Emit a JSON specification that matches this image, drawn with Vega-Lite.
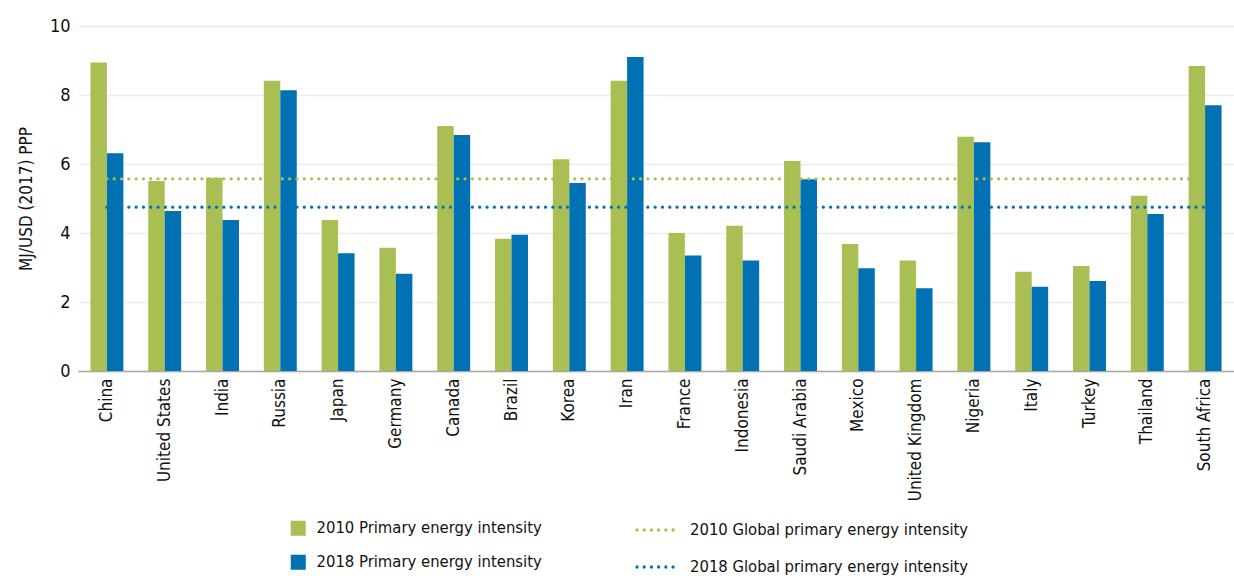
{
  "$schema": "https://vega.github.io/schema/vega-lite/v6.json",
  "autosize": "none",
  "width": 1156,
  "height": 345,
  "padding": {"left": 78, "top": 26, "right": 0, "bottom": 205},
  "background": "white",
  "config": {
    "view": {"stroke": null},
    "font": "DejaVu Sans Condensed"
  },
  "datasets": {
    "bars": [
      {"country": "China", "series": "2010 Primary energy intensity", "value": 8.94},
      {"country": "China", "series": "2018 Primary energy intensity", "value": 6.31},
      {"country": "United States", "series": "2010 Primary energy intensity", "value": 5.51},
      {"country": "United States", "series": "2018 Primary energy intensity", "value": 4.64},
      {"country": "India", "series": "2010 Primary energy intensity", "value": 5.60},
      {"country": "India", "series": "2018 Primary energy intensity", "value": 4.38},
      {"country": "Russia", "series": "2010 Primary energy intensity", "value": 8.41},
      {"country": "Russia", "series": "2018 Primary energy intensity", "value": 8.14},
      {"country": "Japan", "series": "2010 Primary energy intensity", "value": 4.38},
      {"country": "Japan", "series": "2018 Primary energy intensity", "value": 3.41},
      {"country": "Germany", "series": "2010 Primary energy intensity", "value": 3.57},
      {"country": "Germany", "series": "2018 Primary energy intensity", "value": 2.82},
      {"country": "Canada", "series": "2010 Primary energy intensity", "value": 7.10},
      {"country": "Canada", "series": "2018 Primary energy intensity", "value": 6.84},
      {"country": "Brazil", "series": "2010 Primary energy intensity", "value": 3.83},
      {"country": "Brazil", "series": "2018 Primary energy intensity", "value": 3.95},
      {"country": "Korea", "series": "2010 Primary energy intensity", "value": 6.14},
      {"country": "Korea", "series": "2018 Primary energy intensity", "value": 5.45},
      {"country": "Iran", "series": "2010 Primary energy intensity", "value": 8.41},
      {"country": "Iran", "series": "2018 Primary energy intensity", "value": 9.10},
      {"country": "France", "series": "2010 Primary energy intensity", "value": 4.00},
      {"country": "France", "series": "2018 Primary energy intensity", "value": 3.35},
      {"country": "Indonesia", "series": "2010 Primary energy intensity", "value": 4.21},
      {"country": "Indonesia", "series": "2018 Primary energy intensity", "value": 3.20},
      {"country": "Saudi Arabia", "series": "2010 Primary energy intensity", "value": 6.09},
      {"country": "Saudi Arabia", "series": "2018 Primary energy intensity", "value": 5.56},
      {"country": "Mexico", "series": "2010 Primary energy intensity", "value": 3.68},
      {"country": "Mexico", "series": "2018 Primary energy intensity", "value": 2.98},
      {"country": "United Kingdom", "series": "2010 Primary energy intensity", "value": 3.20},
      {"country": "United Kingdom", "series": "2018 Primary energy intensity", "value": 2.40},
      {"country": "Nigeria", "series": "2010 Primary energy intensity", "value": 6.79},
      {"country": "Nigeria", "series": "2018 Primary energy intensity", "value": 6.63},
      {"country": "Italy", "series": "2010 Primary energy intensity", "value": 2.88},
      {"country": "Italy", "series": "2018 Primary energy intensity", "value": 2.44},
      {"country": "Turkey", "series": "2010 Primary energy intensity", "value": 3.04},
      {"country": "Turkey", "series": "2018 Primary energy intensity", "value": 2.61},
      {"country": "Thailand", "series": "2010 Primary energy intensity", "value": 5.08},
      {"country": "Thailand", "series": "2018 Primary energy intensity", "value": 4.55},
      {"country": "South Africa", "series": "2010 Primary energy intensity", "value": 8.84},
      {"country": "South Africa", "series": "2018 Primary energy intensity", "value": 7.70}
    ],
    "lines": [
      {"line": "2010 Global primary energy intensity", "value": 5.57, "start": "China", "end": "South Africa"},
      {"line": "2018 Global primary energy intensity", "value": 4.75, "start": "China", "end": "South Africa"}
    ]
  },
  "layer": [
    {
      "data": {"name": "bars"},
      "mark": {"type": "bar"},
      "encoding": {
        "x": {
          "field": "country",
          "type": "nominal",
          "scale": {
            "domain": ["China", "United States", "India", "Russia", "Japan", "Germany", "Canada", "Brazil", "Korea", "Iran", "France", "Indonesia", "Saudi Arabia", "Mexico", "United Kingdom", "Nigeria", "Italy", "Turkey", "Thailand", "South Africa"],
            "paddingInner": 0.43,
            "paddingOuter": 0.215
          },
          "axis": {
            "title": null,
            "labelAngle": 270,
            "labelFont": "DejaVu Sans Condensed",
            "labelFontSize": 17,
            "labelColor": "#111111",
            "labelPadding": 7,
            "labelLimit": 300,
            "ticks": false,
            "domain": true,
            "domainColor": "#a8a8a8",
            "domainWidth": 1.5,
            "grid": false
          }
        },
        "xOffset": {
          "field": "series",
          "type": "nominal",
          "scale": {"domain": ["2010 Primary energy intensity", "2018 Primary energy intensity"], "paddingInner": 0, "paddingOuter": 0}
        },
        "y": {
          "field": "value",
          "type": "quantitative",
          "scale": {"domain": [0, 10]},
          "axis": {
            "title": "MJ/USD (2017) PPP",
            "titleFont": "DejaVu Sans Condensed",
            "titleFontSize": 17,
            "titleFontWeight": "normal",
            "titleColor": "#111111",
            "titlePadding": 14,
            "values": [0, 2, 4, 6, 8, 10],
            "labelFont": "DejaVu Sans Condensed",
            "labelFontSize": 18,
            "labelColor": "#111111",
            "labelPadding": 8,
            "ticks": false,
            "domain": false,
            "grid": true,
            "gridColor": "#ececec",
            "gridWidth": 1.5
          }
        },
        "fill": {
          "field": "series",
          "type": "nominal",
          "scale": {"domain": ["2010 Primary energy intensity", "2018 Primary energy intensity"], "range": ["#aabf53", "#0071b2"]},
          "legend": {
            "title": null,
            "orient": "none",
            "legendX": 212,
            "legendY": 494,
            "direction": "vertical",
            "symbolType": "square",
            "symbolSize": 225,
            "symbolStrokeWidth": 0,
            "labelFont": "DejaVu Sans Condensed",
            "labelFontSize": 16.5,
            "labelLimit": 400,
            "labelColor": "#111111",
            "labelOffset": 10,
            "rowPadding": 17,
            "padding": 0
          }
        }
      }
    },
    {
      "data": {"name": "lines"},
      "mark": {"type": "rule", "strokeWidth": 3.3, "strokeCap": "round", "strokeDash": [0.01, 7.3]},
      "encoding": {
        "x": {"field": "start", "type": "nominal"},
        "x2": {"field": "end"},
        "y": {"field": "value", "type": "quantitative"},
        "stroke": {
          "field": "line",
          "type": "nominal",
          "scale": {"domain": ["2010 Global primary energy intensity", "2018 Global primary energy intensity"], "range": ["#aabf53", "#0071b2"]},
          "legend": {
            "title": null,
            "orient": "none",
            "legendX": 557,
            "legendY": 483,
            "direction": "vertical",
            "symbolType": "stroke",
            "symbolSize": 1444,
            "symbolStrokeWidth": 3.3,
            "symbolDash": [0.01, 7.2],
            "labelFont": "DejaVu Sans Condensed",
            "labelFontSize": 16.5,
            "labelLimit": 400,
            "labelColor": "#111111",
            "labelOffset": 13,
            "rowPadding": 7,
            "padding": 0,
            "encode": {"symbols": {"update": {"strokeCap": {"value": "round"}}}}
          }
        }
      }
    }
  ]
}
